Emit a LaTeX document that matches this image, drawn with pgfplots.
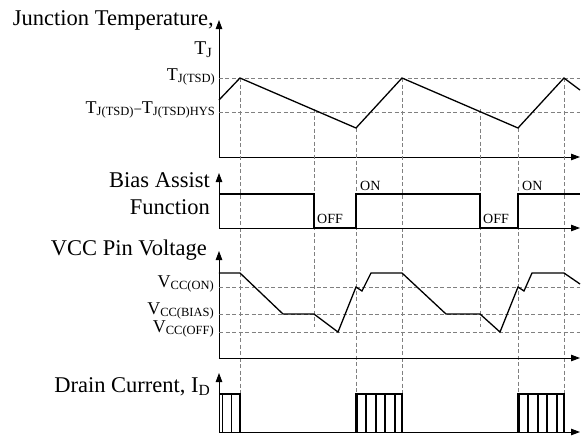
\documentclass[border=0pt]{standalone}
\usepackage{pgfplots}
\pgfplotsset{compat=1.18}
\usepackage{fontspec}
\setmainfont{Liberation Serif}
\usetikzlibrary{arrows.meta}

\newcommand\bigfont{\fontsize{22.5}{25}\selectfont}
\newcommand\lvl[2]{{\fontsize{18}{20}\selectfont #1}\raisebox{-2.5pt}{\fontsize{12.5}{14}\selectfont #2}}
\newcommand\lvlbig[2]{{\fontsize{19.5}{22}\selectfont #1}\raisebox{-3pt}{\fontsize{14}{16}\selectfont #2}}

\pgfplotsset{
  timing/.style={
    scale only axis, width=361pt, xmin=0, xmax=361, ymin=0,
    axis lines=left, xtick=\empty, ytick=\empty,
    axis line style={line width=0.9pt, -{Triangle[length=9pt,width=6.5pt]}},
    clip=false, anchor=south west,
  },
  sig/.style={black, line width=1.3pt, no marks},
  grd/.style={gray, line width=0.8pt, dash pattern=on 4pt off 2.5pt, no marks},
}
\tikzset{
  lbl/.style={anchor=base east, inner sep=1pt},
  st/.style={anchor=base west, inner sep=1pt, font=\fontsize{14}{15}\selectfont},
}

\begin{document}
\begin{tikzpicture}
\path[use as bounding box] (0,0) rectangle (581pt,-437pt);

% junction temperature
\begin{axis}[timing, at={(219pt,-157pt)}, ymax=137, height=137pt]
  \addplot[grd] coordinates {(0,79)(361,79)};
  \addplot[grd] coordinates {(0,45)(361,45)};
  % vertical markers through all panels
  \addplot[grd] coordinates {(21,79)(21,-237)};
  \addplot[grd] coordinates {(95,48)(95,-170)};
  \addplot[grd] coordinates {(137,29)(137,-237)};
  \addplot[grd] coordinates {(183,79)(183,-237)};
  \addplot[grd] coordinates {(261,48)(261,-170)};
  \addplot[grd] coordinates {(299,29)(299,-237)};
  \addplot[grd] coordinates {(345,79)(345,-237)};
  \addplot[sig] coordinates {(0,57)(21,79)(137,29)(183,79)(299,29)(345,79)(361,67)};
  \node[lbl, font=\bigfont] at (axis cs:-4,132) {Junction Temperature,};
  \node[lbl] at (axis cs:-6,103) {\lvlbig{T}{J}};
  \node[lbl] at (axis cs:-3,77) {\lvl{T}{J(TSD)}};
  \node[lbl] at (axis cs:-3,44) {\lvl{T}{J(TSD)}\raisebox{-1pt}{\fontsize{15}{16}\selectfont −}\lvl{T}{J(TSD)HYS}};
\end{axis}

% bias assist
\begin{axis}[timing, at={(219pt,-228pt)}, ymax=55, height=55pt]
  \addplot[sig] coordinates {(0,34)(95,34)(95,0)(137,0)(137,34)(261,34)(261,0)(299,0)(299,34)(361,34)};
  \node[lbl, font=\bigfont] at (axis cs:-8,41) {Bias Assist};
  \node[lbl, font=\bigfont] at (axis cs:-8,14) {Function};
  \node[st] at (axis cs:97,5) {OFF};
  \node[st] at (axis cs:140,38) {ON};
  \node[st] at (axis cs:263,5) {OFF};
  \node[st] at (axis cs:302,38) {ON};
\end{axis}

% vcc pin voltage
\begin{axis}[timing, at={(219pt,-358pt)}, ymax=107, height=107pt]
  \addplot[grd] coordinates {(0,71)(361,71)};
  \addplot[grd] coordinates {(0,44)(361,44)};
  \addplot[grd] coordinates {(0,26)(361,26)};
  \addplot[sig] coordinates {(0,85)(21,85)(64,44)(95,44)(119,26)(137,71)(143,67)(152,85)
    (183,85)(227,44)(261,44)(281,26)(299,71)(305,67)(313,85)(345,85)(361,74)};
  \node[lbl, font=\bigfont] at (axis cs:-11,103) {VCC Pin Voltage};
  \node[lbl] at (axis cs:-4,71) {\lvl{V}{CC(ON)}};
  \node[lbl] at (axis cs:-4,44) {\lvl{V}{CC(BIAS)}};
  \node[lbl] at (axis cs:-4,26) {\lvl{V}{CC(OFF)}};
\end{axis}

% drain current
\begin{axis}[timing, at={(219pt,-432pt)}, ymax=59, height=59pt]
  \addplot[sig] coordinates {(0,38)(3.5,38)(3.5,0)(3.5,38)(12.5,38)(12.5,0)(12.5,38)(21,38)(21,0)};
  \addplot[sig] coordinates {(137,0)(137,38)(138.5,38)(138.5,0)(138.5,38)(147,38)(147,0)(147,38)
    (157,38)(157,0)(157,38)(166,38)(166,0)(166,38)(176,38)(176,0)(176,38)(183,38)(183,0)};
  \addplot[sig] coordinates {(299,0)(299,38)(300.5,38)(300.5,0)(300.5,38)(309,38)(309,0)(309,38)
    (319,38)(319,0)(319,38)(328,38)(328,0)(328,38)(338,38)(338,0)(338,38)(345,38)(345,0)};
  \node[lbl, font=\bigfont] at (axis cs:-8,40) {Drain Current, I\raisebox{-3pt}{\fontsize{15.5}{17}\selectfont D}};
\end{axis}
\end{tikzpicture}
\end{document}
